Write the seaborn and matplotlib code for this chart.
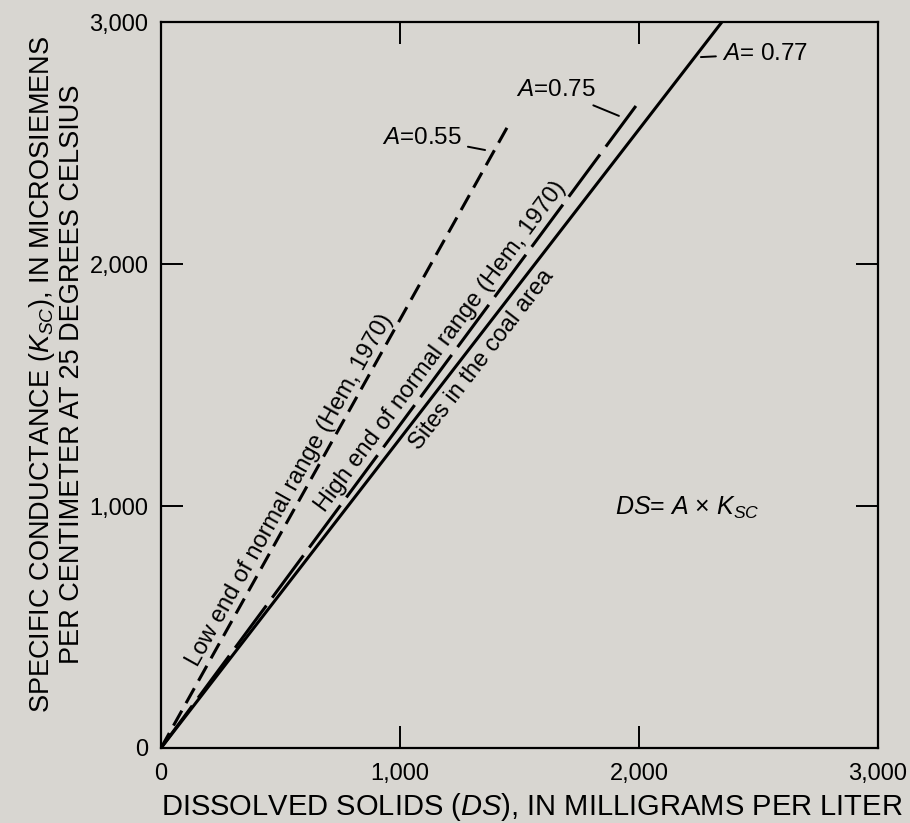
import matplotlib
matplotlib.use("Agg")
import matplotlib.pyplot as plt
import seaborn as sns
import pandas as pd

# Line end points (all lines start at the origin)
series_names = ["A = 0.55", "A = 0.75", "A = 0.77"]
ds_values = [[0, 1460], [0, 1987], [0, 2347]]
ksc_values = [[0, 2585], [0, 2653], [0, 3000]]
tick_values = [0, 1000, 2000, 3000]
tick_labels = ["0", "1,000", "2,000", "3,000"]

BG = "#d8d6d1"

sns.set_theme(style="white", rc={"text.color": "black", "axes.labelcolor": "black",
                                 "xtick.color": "black", "ytick.color": "black",
                                 "patch.edgecolor": "black"})
plt.rcParams["font.family"] = ["Liberation Sans", "DejaVu Sans"]
plt.rcParams["mathtext.fontset"] = "custom"
plt.rcParams["mathtext.rm"] = "Liberation Sans"
plt.rcParams["mathtext.it"] = "Liberation Sans:italic"

rows = []
for name, xs, ys in zip(series_names, ds_values, ksc_values):
    for x, y in zip(xs, ys):
        rows.append({"series": name, "ds": x, "ksc": y})
df = pd.DataFrame(rows)

fig = plt.figure(figsize=(9.1, 8.23), dpi=100, facecolor=BG)
ax = fig.add_axes([161 / 910, 75 / 823, 717 / 910, 726 / 823])
ax.set_facecolor(BG)

sns.lineplot(data=df, x="ds", y="ksc", style="series", color="black",
             dashes={"A = 0.55": (5.6, 2.8), "A = 0.75": (17.2, 3.2), "A = 0.77": ""},
             linewidth=2.2, estimator=None, sort=False, legend=False, ax=ax)

ax.set_xlim(0, 3000)
ax.set_ylim(0, 3000)
ax.set_xticks(tick_values)
ax.set_xticklabels(tick_labels)
ax.set_yticks(tick_values)
ax.set_yticklabels(tick_labels)
ax.xaxis.remove_overlapping_locs = False
ax.yaxis.remove_overlapping_locs = False
ax.set_xticks(tick_values[1:3], minor=True)
ax.set_yticks(tick_values[1:3], minor=True)
ax.tick_params(which="major", length=0, labelsize=17, colors="black")
ax.tick_params(axis="x", which="major", pad=11)
ax.tick_params(axis="y", which="major", pad=9)
ax.tick_params(which="minor", direction="in", length=16, width=1.4,
               top=True, bottom=True, left=True, right=True, color="black")
for s in ax.spines.values():
    s.set_color("black")
    s.set_linewidth(1.6)

ax.set_xlabel(r"DISSOLVED SOLIDS ($\it{DS}$), IN MILLIGRAMS PER LITER", labelpad=4, fontsize=21)
ax.xaxis.label.set_x(0.517)
ax.set_ylabel("SPECIFIC CONDUCTANCE ($\\it{K}_{\\it{SC}}$), IN MICROSIEMENS\n"
              "PER CENTIMETER AT 25 DEGREES CELSIUS", labelpad=3, linespacing=1.1, fontsize=19.5)
ax.yaxis.label.set_y(0.515)

# Curve labels
leader = dict(arrowstyle="-", lw=1.4, color="black", shrinkA=2, shrinkB=0)
ax.annotate(r"$\it{A}$=0.55", xy=(1356, 2471), xytext=(1259, 2521), ha="right", va="center",
            fontsize=17.5, arrowprops=leader)
ax.annotate(r"$\it{A}$=0.75", xy=(1916, 2612), xytext=(1820, 2719), ha="right", va="center",
            fontsize=17.5, arrowprops=leader)
ax.annotate(r"$\it{A}$= 0.77", xy=(2259, 2855), xytext=(2347, 2868), ha="left", va="center",
            fontsize=17.5, arrowprops=leader)

ax.text(2200, 992, r"$\it{DS}$= $\it{A}$ $\times$ $\it{K}_{\it{SC}}$", ha="center", va="center", fontsize=18)

ax.text(540, 1066, "Low end of normal range (Hem, 1970)", rotation=60.8, rotation_mode="anchor",
        ha="center", va="center", fontsize=17)
ax.text(1172, 1661, "High end of normal range (Hem, 1970)", rotation=53.5, rotation_mode="anchor",
        ha="center", va="center", fontsize=17)
ax.text(1343, 1603, "Sites in the coal area", rotation=52.3, rotation_mode="anchor",
        ha="center", va="center", fontsize=17)

fig.savefig("out.png", dpi=100, facecolor=BG)
